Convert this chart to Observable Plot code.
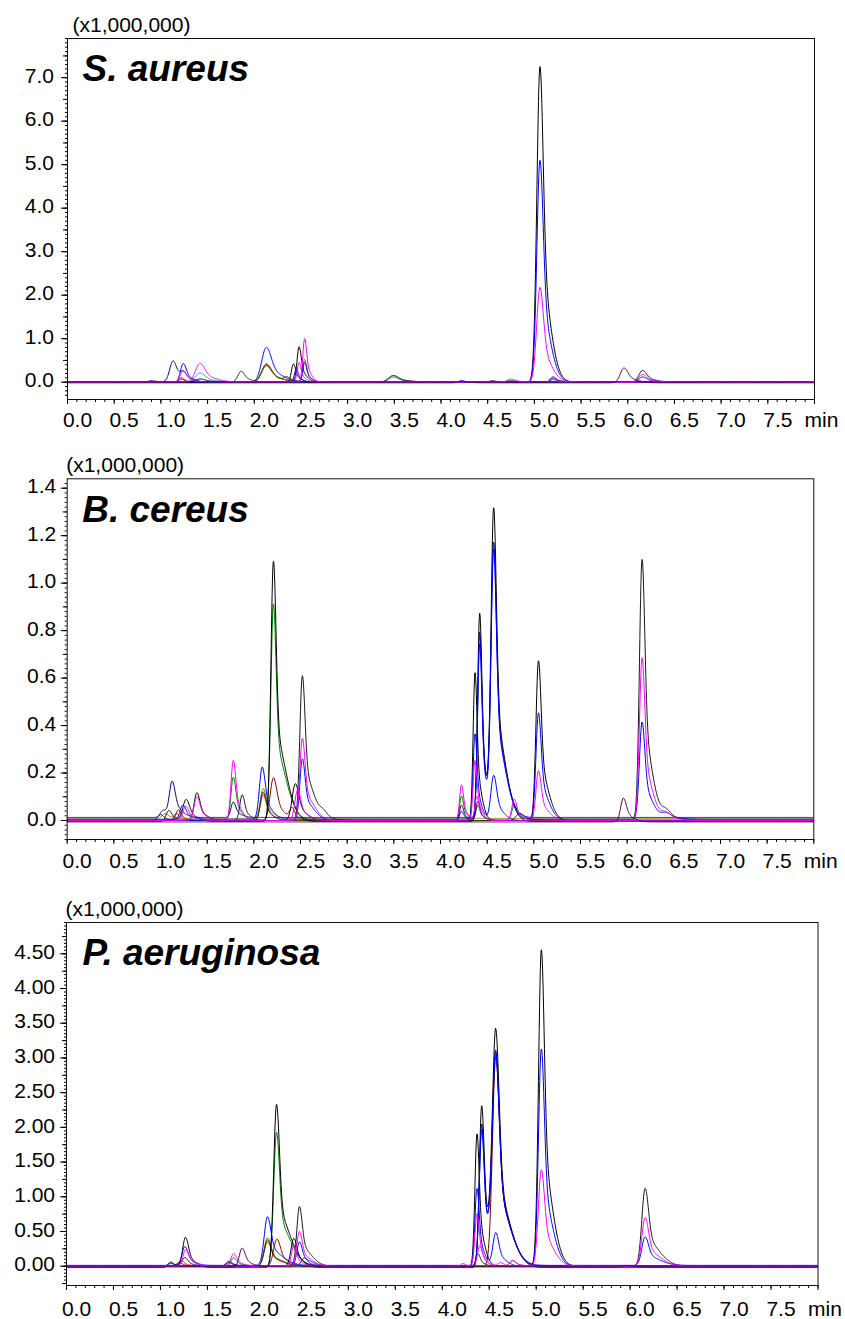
<!DOCTYPE html>
<html><head><meta charset="utf-8">
<script src="https://cdn.jsdelivr.net/npm/d3@7"></script>
<script src="https://cdn.jsdelivr.net/npm/@observablehq/plot@0.6"></script>
<style>
body{margin:0;background:#fff;width:845px;height:1319px;overflow:hidden;font-family:"Liberation Sans",Arial,sans-serif}
.panel{position:absolute;left:0}
</style></head><body>
<div id="p1" class="panel" style="top:0px"></div>
<div id="p2" class="panel" style="top:440px"></div>
<div id="p3" class="panel" style="top:880px"></div>
<script>
// ---- series (MRM channels), in drawing order ----
const seriesKeys   = ["red","darkred","olive","green","darkgreen","cyan","black3","black2","black","navy","blue2","blue","magenta2","magenta","purple"];
const seriesColors = ["#ff0000","#800000","#808000","#008000","#004000","#00b4c0","#1a1a1a","#000000","#000000","#000080","#0000ff","#0000ff","#ff00ff","#ff00ff","#400040"];

// ---- x axis ----
const xTickLabels = [0,0.5,1,1.5,2,2.5,3,3.5,4,4.5,5,5.5,6,6.5,7,7.5];
const xUnit = "min";

// ---- panel titles ----
const titles = ["S. aureus","B. cereus","P. aeruginosa"];
const yScaleNote = "(x1,000,000)";

// ---- y tick labels (x1,000,000) ----
const yTicks1 = [0,1,2,3,4,5,6,7];
const yTicks2 = [0,0.2,0.4,0.6,0.8,1.0,1.2,1.4];
const yTicks3 = [0,0.5,1,1.5,2,2.5,3,3.5,4,4.5];

// ---- peaks: [series, retention time (min), height (x1,000,000), width sigma (min), tail factor] ----
const saPeaks = [
 ["navy",0.90,0.03,0.03],["navy",1.13,0.48,0.035],["red",1.22,0.10,0.025],["darkred",1.22,0.07,0.025],
 ["navy",1.24,0.15,0.03],["magenta",1.24,0.27,0.03],["blue",1.24,0.43,0.03],
 ["black",1.42,0.07,0.05],["cyan",1.42,0.21,0.05],["magenta2",1.42,0.43,0.05],
 ["darkgreen",1.86,0.25,0.035],
 ["darkred",2.13,0.38,0.05],["red",2.13,0.40,0.05],["olive",2.13,0.41,0.05],["green",2.13,0.42,0.05],["blue",2.13,0.80,0.05],
 ["darkred",2.35,0.08,0.03],["black2",2.42,0.42,0.022],["blue2",2.45,0.30,0.02],["black",2.48,0.81,0.022],
 ["magenta",2.48,0.45,0.02],["olive",2.54,0.52,0.02],["blue",2.54,0.45,0.02],["magenta2",2.54,1.00,0.02],
 ["green",3.49,0.12,0.05],["black",3.49,0.15,0.05],
 ["magenta",4.22,0.03,0.03],["purple",4.22,0.05,0.03],["black",4.55,0.03,0.03],
 ["green",4.75,0.04,0.04],["magenta",4.75,0.07,0.04],
 ["black",5.06,7.25,0.033],["blue",5.06,5.10,0.033],["magenta",5.06,2.18,0.035],
 ["black2",5.20,0.12,0.03],["blue2",5.20,0.08,0.03],["magenta2",5.20,0.06,0.03],
 ["purple",5.96,0.34,0.04],
 ["black2",6.16,0.27,0.04],["magenta2",6.16,0.18,0.04],["blue2",6.16,0.12,0.04]
];
const saBase = [["purple",-0.015],["navy",0.008],["black",0.004]];

const bcPeaks = [
 ["black3",1.00,0.025,0.03],["navy",1.03,0.03,0.03],["olive",1.05,0.02,0.03],["black",1.09,0.046,0.03],
 ["navy",1.125,0.147,0.03],["red",1.17,0.03,0.025],["darkred",1.19,0.045,0.025],["blue",1.24,0.06,0.03],
 ["magenta",1.27,0.06,0.03],["black",1.275,0.091,0.035],["black2",1.39,0.117,0.03],["magenta2",1.39,0.10,0.03],
 ["magenta",1.78,0.253,0.025],["green",1.78,0.18,0.025],["navy",1.78,0.065,0.025],["black3",1.875,0.108,0.025],
 ["blue",2.09,0.22,0.03],["olive",2.10,0.126,0.03],["darkgreen",2.10,0.12,0.03],["red",2.10,0.11,0.03],
 ["darkred",2.21,0.18,0.035],["black",2.21,1.098,0.027,4.5],["green",2.21,0.91,0.027,4.5],
 ["darkred",2.41,0.045,0.025],["black2",2.445,0.155,0.035],["magenta2",2.47,0.13,0.03],
 ["black3",2.52,0.61,0.027,4],["magenta",2.52,0.347,0.027,4],["blue2",2.52,0.26,0.027,4],["black3",2.75,0.025,0.04],
 ["blue2",4.225,0.04,0.02],["black3",4.225,0.065,0.02],["green",4.225,0.10,0.02],["magenta",4.225,0.15,0.02],
 ["black2",4.37,0.625,0.02],["blue2",4.37,0.365,0.02],["magenta2",4.37,0.253,0.02],
 ["magenta",4.39,0.10,0.02],["green",4.40,0.06,0.02],["black3",4.40,0.08,0.02],
 ["black",4.42,0.877,0.022],["navy",4.42,0.78,0.022],["blue",4.42,0.74,0.022],
 ["black",4.57,1.30,0.028,4],["navy",4.57,1.14,0.028,4],["blue",4.57,1.12,0.028,4],["blue2",4.57,0.19,0.03],
 ["magenta",4.79,0.09,0.025],["green",4.79,0.06,0.025],["black3",4.85,0.03,0.04],
 ["black2",5.05,0.674,0.027,3.5],["blue2",5.05,0.454,0.027,3.5],["magenta2",5.05,0.21,0.027,3.5],
 ["purple",5.96,0.10,0.03],
 ["black3",6.16,1.10,0.028,3.5],["magenta",6.16,0.685,0.028,3.5],["blue",6.16,0.41,0.028,3.5],
 ["black3",6.42,0.04,0.05],["magenta",6.42,0.03,0.05],["blue",6.42,0.025,0.05]
];
const bcBase = [["navy",0.013],["olive",0.009],["blue",0.005],["green",0.003],["black",-0.004],["purple",-0.006]];

const paPeaks = [
 ["black",1.11,0.08,0.03],["navy",1.11,0.04,0.03],["darkred",1.20,0.05,0.03],["red",1.22,0.08,0.03],
 ["black",1.267,0.43,0.03],["blue",1.26,0.27,0.03],["magenta",1.27,0.24,0.03],["navy",1.26,0.12,0.03],
 ["black2",1.73,0.07,0.03],["navy",1.73,0.05,0.03],["magenta",1.78,0.18,0.03],["green",1.78,0.12,0.03],
 ["purple",1.87,0.27,0.03],
 ["blue",2.14,0.70,0.035,4],["olive",2.14,0.41,0.035,4],["darkgreen",2.14,0.38,0.035,4],["red",2.14,0.35,0.035,4],
 ["darkred",2.24,0.39,0.035],["black",2.236,2.35,0.03,4.5],["green",2.236,1.93,0.03,4.5],
 ["black2",2.42,0.40,0.03],["magenta2",2.42,0.30,0.025],
 ["black3",2.48,0.86,0.028,4],["magenta",2.48,0.50,0.028,4],["blue2",2.48,0.35,0.028,4],["navy",2.53,0.12,0.03],
 ["magenta",4.22,0.04,0.02],
 ["black2",4.37,1.91,0.022],["blue2",4.37,1.12,0.022],["magenta",4.37,0.755,0.022],
 ["black3",4.38,0.18,0.022],["magenta2",4.40,0.30,0.025],
 ["black",4.42,2.33,0.025,4],["navy",4.42,2.05,0.025,4],["blue",4.42,1.955,0.025,4],
 ["black",4.57,3.18,0.035,4],["navy",4.57,2.88,0.035,4],["blue",4.57,2.84,0.035,4],["darkred",4.57,3.02,0.035,4],
 ["blue2",4.57,0.48,0.03],["magenta2",4.62,0.05,0.03],["green",4.75,0.08,0.03],["magenta",4.75,0.08,0.03],
 ["black2",5.055,4.56,0.03,3.5],["blue2",5.055,3.13,0.03,3.5],["magenta2",5.055,1.39,0.032,3.5],
 ["purple",5.96,0.02,0.03],
 ["black3",6.16,1.12,0.035,4],["magenta",6.16,0.70,0.035,4],["blue",6.16,0.41,0.035,4]
];
const paBase = [["black",-0.02],["magenta",0],["blue",0.012],["purple",-0.01]];

// ---- build traces ----
function peakValue(dt, h, s, k) {
  if (dt < 0) return h * Math.exp(-0.5 * (dt / s) ** 2);
  return h * (0.65 * Math.exp(-0.5 * (dt / s) ** 2) + 0.35 * Math.exp(-0.5 * (dt / (s * k)) ** 2));
}
function buildRows(peaks, base) {
  const times = d3.range(0, 8.0001, 0.004);
  const rows = [];
  for (const key of seriesKeys) {
    const ps = peaks.filter(p => p[0] === key);
    const b = base.find(d => d[0] === key);
    if (!ps.length && !b) continue;
    const off = b ? b[1] : 0;
    for (const t of times) {
      let v = off;
      for (const [, rt, h, s, k = 3] of ps) {
        const dt = t - rt;
        if (Math.abs(dt) < 12 * s * k) v += peakValue(dt, h, s, k);
      }
      rows.push({key, t, v});
    }
  }
  return rows;
}

function panel(cfg) {
  const fmt = d3.format(cfg.fmt);
  const [y0, y1] = cfg.ydomain;
  const minor = d3.range(Math.ceil(y0 / cfg.minor - 1e-9), Math.floor(y1 / cfg.minor + 1e-9) + 1).map(i => +(i * cfg.minor).toFixed(4));
  const mid = d3.range(Math.ceil(y0 / cfg.mid - 1e-9), Math.floor(y1 / cfg.mid + 1e-9) + 1).map(i => +(i * cfg.mid).toFixed(4));
  const xMinor = d3.range(0, 81).map(i => i / 10);
  const xMajor = d3.range(0, 17).map(i => i / 2);
  const font = "Liberation Sans, Arial, sans-serif";
  return Plot.plot({
    width: 845, height: cfg.height,
    marginTop: cfg.mt, marginBottom: cfg.mb, marginLeft: cfg.ml, marginRight: cfg.mr,
    x: {domain: [0, 8]},
    y: {domain: cfg.ydomain},
    color: {domain: seriesKeys, range: seriesColors},
    style: {fontFamily: font, fontSize: "21px", color: "#000", background: "#fff", overflow: "visible"},
    marks: [
      Plot.line(cfg.rows, {x: "t", y: "v", z: "key", stroke: "key", strokeWidth: 1, clip: true}),
      Plot.frame({stroke: "#111", strokeWidth: 1}),
      Plot.axisY(minor, {tickSize: 2, tickFormat: () => "", label: null}),
      Plot.axisY(mid, {tickSize: 4, tickFormat: () => "", label: null}),
      Plot.axisY(cfg.yticks, {tickSize: 6, tickFormat: () => "", label: null}),
      Plot.text(cfg.yticks, {y: d => d, text: d => fmt(d), frameAnchor: "left", textAnchor: "end", lineAnchor: "middle", dx: -cfg.ypad, dy: -1.5, fontSize: 21, fill: "#000"}),
      Plot.axisX(xMinor, {tickSize: 3, tickFormat: () => "", label: null}),
      Plot.axisX(xMajor, {tickSize: 5, tickFormat: () => "", label: null}),
      Plot.text(xTickLabels, {x: d => d, text: d => d3.format(".1f")(d), frameAnchor: "bottom", lineAnchor: "top", textAnchor: "middle", dx: 10, dy: cfg.xpad, fontSize: 21, fill: "#000"}),
      Plot.text([{x: 8, s: xUnit}], {x: "x", text: "s", frameAnchor: "bottom", lineAnchor: "top", textAnchor: "start", dx: -10, dy: cfg.xpad, fontSize: 21, fill: "#000"}),
      Plot.text([yScaleNote], {frameAnchor: "top-left", textAnchor: "start", lineAnchor: "middle", dx: cfg.notedx, dy: -13.7, fontSize: 21, fill: "#000"}),
      Plot.text([cfg.title], {frameAnchor: "top-left", textAnchor: "start", lineAnchor: "middle", dx: cfg.titledx, dy: cfg.titledy, fontSize: 37, fontWeight: "bold", fontStyle: "italic", fill: "#000"})
    ]
  });
}

document.getElementById("p1").append(panel({
  rows: buildRows(saPeaks, saBase), title: titles[0], height: 440, mt: 38, mb: 41, ml: 67, mr: 31,
  ydomain: [-0.398, 7.90], yticks: yTicks1, fmt: ".1f", mid: 0.5, minor: 0.1, ypad: 13.5, xpad: 12.5,
  notedx: 5, titledx: 15, titledy: 30.2
}));
document.getElementById("p2").append(panel({
  rows: buildRows(bcPeaks, bcBase), title: titles[1], height: 440, mt: 38.3, mb: 41, ml: 66.7, mr: 31.7,
  ydomain: [-0.080, 1.4396], yticks: yTicks2, fmt: ".1f", mid: 0.1, minor: 0.02, ypad: 11, xpad: 14,
  notedx: -1, titledx: 15, titledy: 31.4
}));
document.getElementById("p3").append(panel({
  rows: buildRows(paPeaks, paBase), title: titles[2], height: 439, mt: 42, mb: 34, ml: 66, mr: 27.5,
  ydomain: [-0.278, 4.951], yticks: yTicks3, fmt: ".2f", mid: 0.25, minor: 0.05, ypad: 11.5, xpad: 16,
  notedx: -1, titledx: 16, titledy: 30.2
}));
</script></body></html>
